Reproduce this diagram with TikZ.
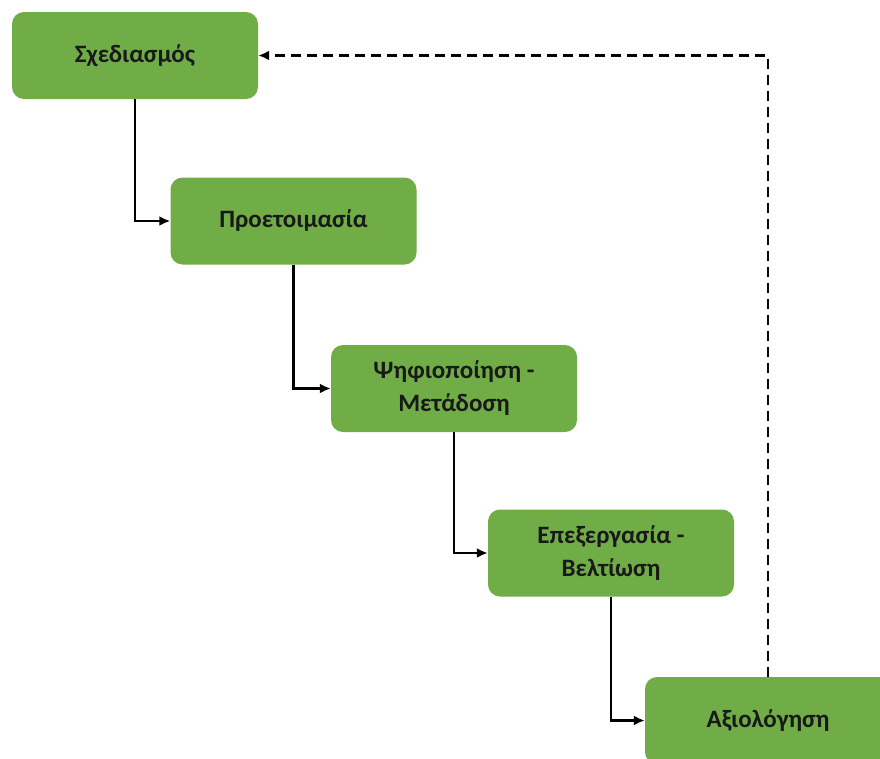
\documentclass[tikz,border=0pt]{standalone}
\usepackage{fontspec}
\setmainfont{Carlito}
\usepackage{tikz}
\usetikzlibrary{arrows.meta,positioning,calc}
\definecolor{stepgreen}{RGB}{112,173,71}

\begin{document}
\begin{tikzpicture}[x=1pt,y=-1pt,
    stage/.style={fill=stepgreen, rounded corners=12pt, minimum width=246pt, minimum height=87pt,
        align=center, font=\fontsize{25}{33}\selectfont\bfseries, text=black!90},
    flow/.style={line width=2.5pt, -{Latex[length=11pt,width=10pt]}},
    back/.style={line width=2.5pt, dash pattern=on 10pt off 6pt, -{Latex[length=11pt,width=10pt]}}]
    \useasboundingbox (0,0) rectangle (880,758);
    % Stages
    \node[stage] (plan) at (135,55.5) {Σχεδιασμός};
    \node[stage] (prep) at (293.5,221) {Προετοιμασία};
    \node[stage] (digi) at (454,388.5) {Ψηφιοποίηση -\\Μετάδοση};
    \node[stage] (edit) at (611,553) {Επεξεργασία -\\Βελτίωση};
    \node[stage] (eval) at (768,720.5) {Αξιολόγηση};
    % Forward steps
    \draw[flow] (plan.south) |- (prep.west);
    \draw[flow] (prep.south) |- (digi.west);
    \draw[flow] (digi.south) |- (edit.west);
    \draw[flow] (edit.south) |- (eval.west);
    % Feedback loop
    \draw[back] (eval.north) |- (plan.east);
\end{tikzpicture}
\end{document}
